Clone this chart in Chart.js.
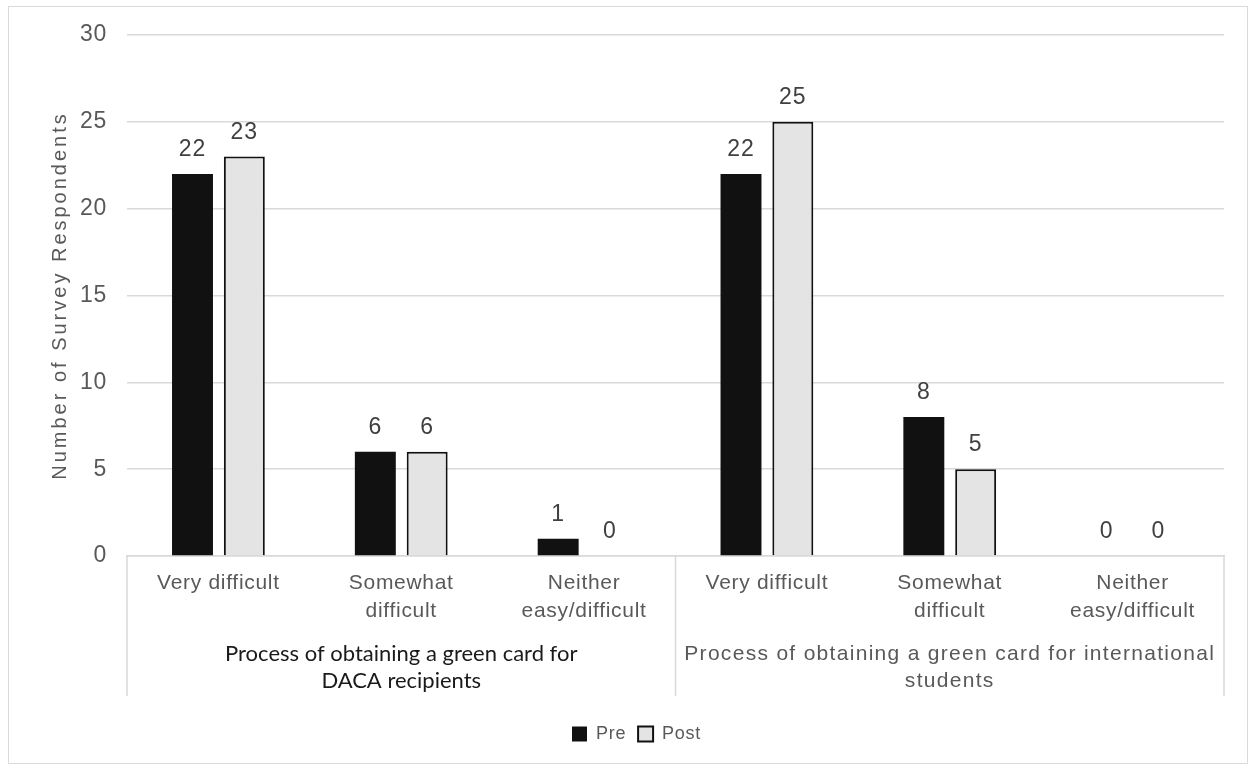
<!DOCTYPE html>
<html>
<head>
<meta charset="utf-8">
<script src="https://cdn.jsdelivr.net/npm/chart.js@4/dist/chart.umd.min.js"></script>
<style>
  html, body { margin: 0; padding: 0; background: #fff; }
  #wrap { position: relative; width: 1254px; height: 765px; }
  #frame { position: absolute; left: 8px; top: 6px; width: 1240px; height: 758px;
           border: 1.5px solid #d9d9d9; box-sizing: border-box; }
  canvas { position: absolute; left: 0; top: 0; }
</style>
</head>
<body>
<div id="wrap">
  <div id="frame"></div>
  <canvas id="c" width="1254" height="765"></canvas>
</div>
<script>
// Response categories (repeated for each question group)
const categories = [
  ['Very difficult'], ['Somewhat', 'difficult'], ['Neither', 'easy/difficult'],
  ['Very difficult'], ['Somewhat', 'difficult'], ['Neither', 'easy/difficult']
];
// Question groups, each spanning three categories
const groupLabels = [
  ['Process of obtaining a green card for', 'DACA recipients'],
  ['Process of obtaining a green card for international', 'students']
];
const preValues  = [22, 6, 1, 22, 8, 0];
const postValues = [23, 6, 0, 25, 5, 0];
const yMin = 0, yMax = 30, yStep = 5;
const yTitle = 'Number of Survey Respondents';

const SANS = "'Liberation Sans', Arial, sans-serif";
const GRAY = '#595959';
const LINE = '#d9d9d9';

// Slightly open letter spacing for all chart text
const textSpacing = {
  id: 'textSpacing',
  beforeDraw(chart) { chart.ctx.letterSpacing = '0.7px'; }
};

// Bar value labels above each bar
const valueLabels = {
  id: 'valueLabels',
  afterDatasetsDraw(chart) {
    const ctx = chart.ctx;
    ctx.save();
    ctx.font = '23px ' + SANS;
    ctx.letterSpacing = '1px';
    ctx.fillStyle = '#404040';
    ctx.textAlign = 'center';
    ctx.textBaseline = 'alphabetic';
    chart.data.datasets.forEach((ds, di) => {
      chart.getDatasetMeta(di).data.forEach((bar, i) => {
        ctx.fillText(String(ds.data[i]), bar.x, bar.y - 18);
      });
    });
    ctx.restore();
  }
};

// Two-level category axis: group separators, group labels, and the y title
const groupAxis = {
  id: 'groupAxis',
  afterDraw(chart) {
    const { ctx, chartArea, scales } = chart;
    const x = scales.x;
    const top = chartArea.bottom;
    const bottom = top + 140;
    const mid = (x.getPixelForValue(2) + x.getPixelForValue(3)) / 2;
    ctx.save();
    ctx.strokeStyle = LINE;
    ctx.lineWidth = 1.5;
    [chartArea.left, mid, chartArea.right].forEach(px => {
      ctx.beginPath();
      ctx.moveTo(px, top);
      ctx.lineTo(px, bottom);
      ctx.stroke();
    });

    ctx.textAlign = 'center';
    ctx.textBaseline = 'middle';
    const centers = [(chartArea.left + mid) / 2, (mid + chartArea.right) / 2];
    // first group label
    ctx.font = "22px Lato, 'Open Sans', sans-serif";
    ctx.fillStyle = '#1a1a1a';
    ctx.letterSpacing = '0px';
    groupLabels[0].forEach((line, k) => ctx.fillText(line, centers[0], top + 98 + k * 27));
    // second group label
    ctx.font = '21px ' + SANS;
    ctx.fillStyle = GRAY;
    ctx.letterSpacing = '1.3px';
    groupLabels[1].forEach((line, k) => ctx.fillText(line, centers[1], top + 98 + k * 27));

    // rotated y-axis title
    ctx.translate(60, (chartArea.top + chartArea.bottom) / 2);
    ctx.rotate(-Math.PI / 2);
    ctx.font = '20px ' + SANS;
    ctx.fillStyle = GRAY;
    ctx.letterSpacing = '3px';
    ctx.fillText(yTitle, 0, 0);
    ctx.restore();
  }
};

new Chart(document.getElementById('c'), {
  type: 'bar',
  data: {
    labels: categories,
    datasets: [
      {
        label: 'Pre',
        data: preValues,
        backgroundColor: '#111111',
        borderColor: '#111111',
        borderWidth: 0,
        categoryPercentage: 0.567,
        barPercentage: 0.79
      },
      {
        label: 'Post',
        data: postValues,
        backgroundColor: '#e4e4e4',
        borderColor: '#111111',
        borderWidth: c => (c.raw === 0 ? 0 : 2),
        categoryPercentage: 0.567,
        barPercentage: 0.79
      }
    ]
  },
  options: {
    responsive: false,
    animation: false,
    layout: { padding: { top: 35, right: 30, bottom: 12, left: 44 } },
    plugins: {
      legend: {
        position: 'bottom',
        labels: {
          boxWidth: 15,
          boxHeight: 15,
          padding: 12,
          color: GRAY,
          font: { family: SANS, size: 18 }
        }
      },
      tooltip: { enabled: false }
    },
    scales: {
      x: {
        grid: { display: false },
        border: { display: true, color: LINE, width: 1.5 },
        ticks: {
          color: GRAY,
          font: { family: SANS, size: 21, lineHeight: 1.3 },
          padding: 6,
          maxRotation: 0,
          autoSkip: false
        },
        afterFit(scale) { scale.height = 157; }
      },
      y: {
        min: yMin,
        max: yMax,
        grid: { color: LINE, lineWidth: 1.5, drawTicks: false },
        border: { display: false },
        ticks: {
          stepSize: yStep,
          color: GRAY,
          padding: 20,
          font: { family: SANS, size: 23 }
        },
        afterFit(scale) { scale.width = 83; }
      }
    }
  },
  plugins: [textSpacing, valueLabels, groupAxis]
});
</script>
</body>
</html>
